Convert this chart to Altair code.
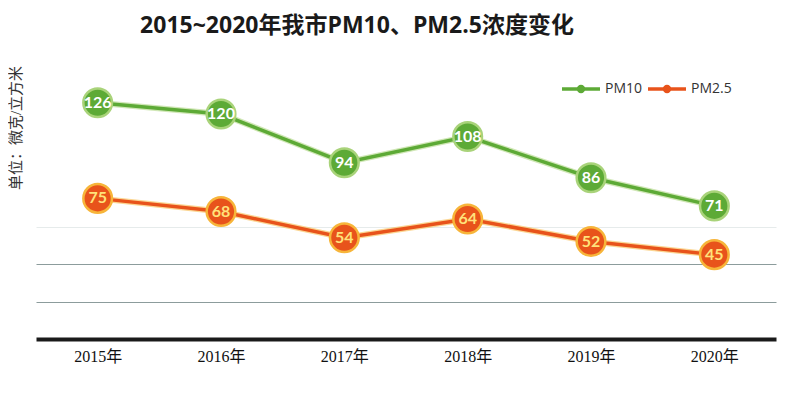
import altair as alt
import pandas as pd

years = ["2015年", "2016年", "2017年", "2018年", "2019年", "2020年"]
pm10 = [126, 120, 94, 108, 86, 71]
pm25 = [75, 68, 54, 64, 52, 45]
series = ["PM10", "PM2.5"]
colors = ["#5DAA36", "#E8531B"]
halo = ["#A9D37A", "#F7B53A"]
label_colors = ["#FFFFFF", "#FFE27A"]
grid_values = [20, 40, 60]
title_text = "2015~2020年我市PM10、PM2.5浓度变化"
y_title = "单位：微克/立方米"

rows = []
for i, y in enumerate(years):
    rows.append({"year": y, "series": series[0], "value": pm10[i]})
    rows.append({"year": y, "series": series[1], "value": pm25[i]})
df = pd.DataFrame(rows)

xscale = alt.Scale(type="point", padding=0.5)
yscale = alt.Scale(domain=[0, 160])
cscale = alt.Scale(domain=series, range=colors)
hscale = alt.Scale(domain=series, range=halo)
tscale = alt.Scale(domain=series, range=label_colors)

x_enc = alt.X("year:N", scale=xscale, sort=years, title=None,
              axis=alt.Axis(domainColor="#1a1a1a", domainWidth=4, ticks=False,
                            labelFont="Liberation Serif, Noto Sans CJK SC",
                            labelFontSize=16, labelColor="#111111",
                            labelPadding=9, labelAngle=0))
y_enc = alt.Y("value:Q", scale=yscale, title=None,
              axis=alt.Axis(labels=False, ticks=False, domain=False, grid=True,
                            values=grid_values,
                            gridColor={"condition": {"test": "datum.value === 60", "value": "#E6EBEB"},
                                       "value": "#8C9C9C"},
                            gridWidth=1))

base = alt.Chart(df)
xs = alt.X("year:N", scale=xscale, sort=years)
ys = alt.Y("value:Q", scale=yscale)

halo_line = base.mark_line(strokeWidth=6, opacity=0.55).encode(
    x=x_enc, y=y_enc,
    color=alt.Color("series:N", scale=hscale, legend=None),
    detail="series:N")
line = base.mark_line(strokeWidth=3.5).encode(
    x=xs, y=ys,
    color=alt.Color("series:N", scale=cscale, legend=None))
pts = base.mark_point(filled=False, size=820, strokeWidth=2.5, opacity=1).encode(
    x=xs, y=ys,
    fill=alt.Fill("series:N", scale=cscale, legend=None),
    stroke=alt.Stroke("series:N", scale=hscale, legend=None))
labels = base.mark_text(font="Lato, Open Sans", fontSize=16, fontWeight="bold",
                        baseline="middle", align="center").encode(
    x=xs, y=ys,
    text="value:Q",
    color=alt.Color("series:N", scale=tscale, legend=None))

title = alt.Chart(pd.DataFrame({"t": [title_text]})).mark_text(
    font="Open Sans, Noto Sans CJK SC", fontSize=23, fontWeight="bold",
    color="#1a1a1a", align="center", baseline="middle").encode(
    x=alt.value(321), y=alt.value(-13), text="t:N")

ytitle = alt.Chart(pd.DataFrame({"t": [y_title]})).mark_text(
    font="Liberation Serif, Noto Sans CJK SC", fontSize=15, color="#333333",
    angle=270, align="center", baseline="middle").encode(
    x=alt.value(-20), y=alt.value(89), text="t:N")

# legend
leg_layers = []
leg_x = [526, 612]
for i, s in enumerate(series):
    ldf = pd.DataFrame({"t": [s]})
    lc = alt.Chart(ldf)
    leg_layers.append(lc.mark_rule(color=colors[i], strokeWidth=3.5).encode(
        x=alt.value(leg_x[i]), x2=alt.value(leg_x[i] + 38), y=alt.value(50)))
    leg_layers.append(lc.mark_point(filled=True, color=colors[i], size=70, opacity=1).encode(
        x=alt.value(leg_x[i] + 19), y=alt.value(50)))
    leg_layers.append(lc.mark_text(font="Open Sans", fontSize=14, color="#333333",
                                   align="left", baseline="middle").encode(
        x=alt.value(leg_x[i] + 43), y=alt.value(50), text="t:N"))

chart = alt.layer(halo_line, line, pts, labels, title, ytitle, *leg_layers).resolve_scale(
    color="independent", fill="independent", stroke="independent"
).properties(
    width=740, height=300,
    autosize=alt.AutoSizeParams(type="none"),
    padding={"left": 28, "top": 31, "right": 16, "bottom": 49},
    background="#ffffff",
).configure_view(stroke=None)

chart.save("out.html", embed_options={"renderer": "svg", "actions": False})
